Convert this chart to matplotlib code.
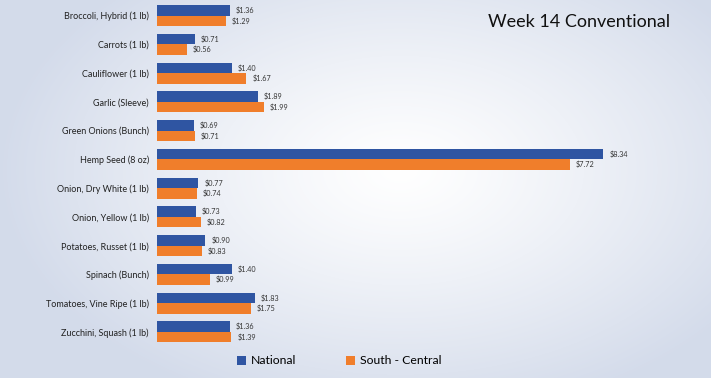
import numpy as np
import matplotlib
matplotlib.use("Agg")
import matplotlib.pyplot as plt

plt.rcParams['font.family'] = ['Lato', 'DejaVu Sans']

# data
items = ["Broccoli, Hybrid (1 lb)", "Carrots (1 lb)", "Cauliflower (1 lb)",
         "Garlic (Sleeve)", "Green Onions (Bunch)", "Hemp Seed (8 oz)",
         "Onion, Dry White (1 lb)", "Onion, Yellow (1 lb)", "Potatoes, Russet (1 lb)",
         "Spinach (Bunch)", "Tomatoes, Vine Ripe (1 lb)", "Zucchini, Squash (1 lb)"]
national = [1.36, 0.71, 1.40, 1.89, 0.69, 8.34, 0.77, 0.73, 0.90, 1.40, 1.83, 1.36]
south_central = [1.29, 0.56, 1.67, 1.99, 0.71, 7.72, 0.74, 0.82, 0.83, 0.99, 1.75, 1.39]

blue = "#2F55A2"
orange = "#F07E2B"

fig = plt.figure(figsize=(7.11, 3.78), dpi=100)

# radial background
bg = fig.add_axes([0, 0, 1, 1], zorder=-10)
yy, xx = np.mgrid[0:378, 0:711]
r = np.sqrt(((xx - 400) / 400.0) ** 2 + ((yy - 170) / 250.0) ** 2)
r = np.clip(r, 0, 1)
c0 = np.array([1.0, 1.0, 1.0])
c1 = np.array([0.83, 0.86, 0.92])
img = c0[None, None, :] * (1 - r[..., None] ** 1.2) + c1[None, None, :] * (r[..., None] ** 1.2)
bg.imshow(img, aspect='auto', extent=[0, 1, 0, 1])
bg.axis('off')

ax = fig.add_axes([0.221, 0.084, 0.76, 0.913])
ax.patch.set_alpha(0)

y = np.arange(len(items))
h = 0.365
ax.barh(y - h / 2, national, height=h, color=blue, label="National")
ax.barh(y + h / 2, south_central, height=h, color=orange, label="South - Central")

for yi, v in zip(y, national):
    ax.text(v + 0.11, yi - h / 2, "${:.2f}".format(v), va='center', ha='left', fontsize=5.2, color='#333333')
for yi, v in zip(y, south_central):
    ax.text(v + 0.11, yi + h / 2, "${:.2f}".format(v), va='center', ha='left', fontsize=5.2, color='#333333')

ax.set_yticks(y)
ax.set_yticklabels(items, fontsize=6.5, color='#222222')
ax.set_ylim(len(items) - 0.5, -0.5)
ax.set_xlim(0, 10.1)
ax.set_xticks([])
ax.tick_params(axis='y', length=0, pad=6)
for s in ax.spines.values():
    s.set_visible(False)

fig.text(0.687, 0.942, "Week 14 Conventional", fontsize=13, color='#111111', va='center', ha='left')

leg = fig.legend(loc='center', bbox_to_anchor=(0.477, 0.045), ncol=2, frameon=False,
                 fontsize=8.8, handlelength=0.75, handleheight=0.75, columnspacing=4.0,
                 handletextpad=0.4)

fig.savefig("out.png", dpi=100)
